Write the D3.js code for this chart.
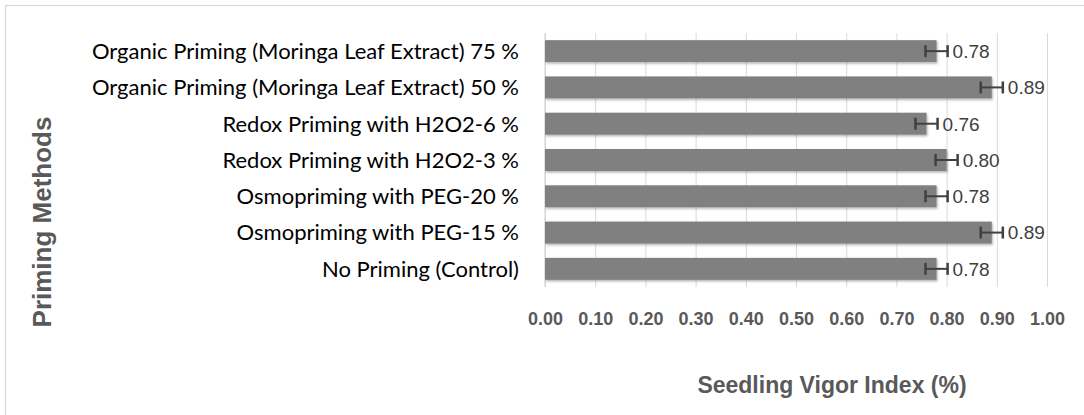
<!DOCTYPE html>
<html>
<head>
<meta charset="utf-8">
<script src="https://cdn.jsdelivr.net/npm/d3@7/dist/d3.min.js"></script>
<style>
html,body{margin:0;padding:0;background:#fff;}
svg{display:block;}
</style>
</head>
<body>
<svg id="chart" width="1084" height="415"></svg>
<script>
const categories = [
  "Organic Priming (Moringa Leaf Extract) 75 %",
  "Organic Priming (Moringa Leaf Extract) 50 %",
  "Redox Priming with H2O2-6 %",
  "Redox Priming with H2O2-3 %",
  "Osmopriming with PEG-20 %",
  "Osmopriming with PEG-15 %",
  "No Priming (Control)"
];
const values = [0.78, 0.89, 0.76, 0.80, 0.78, 0.89, 0.78];
const errors = [0.022, 0.022, 0.022, 0.022, 0.022, 0.022, 0.022];
const tickValues = [0, 0.1, 0.2, 0.3, 0.4, 0.5, 0.6, 0.7, 0.8, 0.9, 1.0];
const xTitle = "Seedling Vigor Index (%)";
const yTitle = "Priming Methods";

const svg = d3.select("#chart");
const plotLeft = 545, plotRight = 1047, plotTop = 33, plotBottom = 287;

// outer border
svg.append("rect").attr("x", 5.5).attr("y", 5.5).attr("width", 1100).attr("height", 430)
  .attr("fill", "#fff").attr("stroke", "#d9d9d9").attr("stroke-width", 1.3);

const defs = svg.append("defs");
const f = defs.append("filter").attr("id", "sh").attr("x", "-5%").attr("y", "-30%").attr("width", "110%").attr("height", "170%");
f.append("feDropShadow").attr("dx", 1).attr("dy", 1.5).attr("stdDeviation", 1.3)
  .attr("flood-color", "#000").attr("flood-opacity", 0.3);

const x = d3.scaleLinear().domain([0, 1]).range([plotLeft, plotRight]);
const y = d3.scaleBand().domain(categories).range([plotTop, plotBottom]).paddingInner(0.394).paddingOuter(0.197);

// gridlines
const xAxis = d3.axisBottom(x).tickValues(tickValues).tickFormat(d3.format(".2f")).tickSize(-(plotBottom - plotTop)).tickPadding(25);
const gx = svg.append("g").attr("transform", `translate(0,${plotBottom})`).call(xAxis);
gx.select(".domain").remove();
gx.selectAll(".tick line").attr("stroke", "#d9d9d9").attr("stroke-width", 1);
gx.selectAll(".tick text").attr("fill", "#595959").attr("font-family", "Liberation Sans, Arial, sans-serif")
  .attr("font-weight", "bold").attr("font-size", "18px");

// y axis line
svg.append("line").attr("x1", plotLeft).attr("x2", plotLeft).attr("y1", plotTop).attr("y2", plotBottom)
  .attr("stroke", "#d9d9d9").attr("stroke-width", 1.3);

// bars
svg.append("g").selectAll("rect").data(categories).join("rect")
  .attr("x", x(0)).attr("y", d => y(d))
  .attr("width", (d, i) => x(values[i]) - x(0)).attr("height", y.bandwidth())
  .attr("fill", "#808080").attr("filter", "url(#sh)");

// error bars
const eb = svg.append("g").attr("stroke", "#404040");
categories.forEach((c, i) => {
  const cy = y(c) + y.bandwidth() / 2;
  const x1 = x(values[i] - errors[i]), x2 = x(values[i] + errors[i]);
  eb.append("line").attr("x1", x1).attr("x2", x2).attr("y1", cy).attr("y2", cy).attr("stroke-width", 2);
  eb.append("line").attr("x1", x1).attr("x2", x1).attr("y1", cy - 6).attr("y2", cy + 6).attr("stroke-width", 2.5);
  eb.append("line").attr("x1", x2).attr("x2", x2).attr("y1", cy - 6).attr("y2", cy + 6).attr("stroke-width", 2.5);
});

// value labels
svg.append("g").selectAll("text").data(categories).join("text")
  .attr("x", (d, i) => x(values[i] + errors[i]) + 5)
  .attr("y", d => y(d) + y.bandwidth() / 2)
  .attr("dy", "0.36em")
  .attr("fill", "#404040").attr("font-family", "Liberation Sans, Arial, sans-serif").attr("font-size", "19px")
  .text((d, i) => d3.format(".2f")(values[i]));

// category labels
svg.append("g").selectAll("text").data(categories).join("text")
  .attr("x", plotLeft - 26).attr("y", d => y(d) + y.bandwidth() / 2)
  .attr("dy", "0.36em").attr("text-anchor", "end")
  .attr("fill", "#000").attr("font-family", "Lato, sans-serif").attr("font-size", "22px")
  .text(d => d);

// axis titles
svg.append("text").attr("x", 832).attr("y", 385).attr("dy", "0.36em").attr("text-anchor", "middle")
  .attr("fill", "#595959").attr("font-family", "Liberation Sans, Arial, sans-serif").attr("font-weight", "bold")
  .attr("font-size", "23px").text(xTitle);
svg.append("text").attr("transform", "translate(42,222) rotate(-90)").attr("dy", "0.36em").attr("text-anchor", "middle")
  .attr("fill", "#595959").attr("font-family", "Liberation Sans, Arial, sans-serif").attr("font-weight", "bold")
  .attr("font-size", "26px").text(yTitle);
</script>
</body>
</html>
